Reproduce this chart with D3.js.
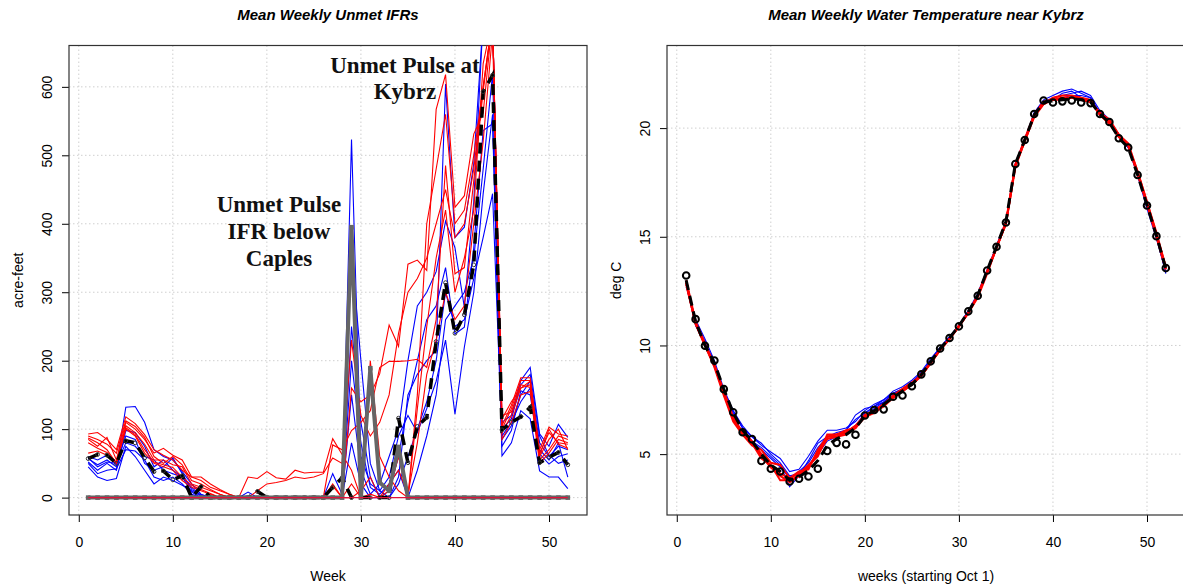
<!DOCTYPE html>
<html>
<head>
<meta charset="utf-8">
<script src="https://cdn.jsdelivr.net/npm/d3@7"></script>
<style>
  body { margin: 0; background: #fff; }
  svg { display: block; font-family: "Liberation Sans", Arial, sans-serif; }
</style>
</head>
<body>
<svg width="1183" height="588"></svg>
<script>
// ---- data ----
const weeks = [1,2,3,4,5,6,7,8,9,10,11,12,13,14,15,16,17,18,19,20,21,22,23,24,25,26,
               27,28,29,30,31,32,33,34,35,36,37,38,39,40,41,42,43,44,45,46,47,48,49,50,51,52];
const xTicks = [0, 10, 20, 30, 40, 50];
const ifrTicks = [0, 100, 200, 300, 400, 500, 600];
const tempTicks = [5, 10, 15, 20];

// left panel: unmet IFRs (acre-feet)
const ifrBlue = [
  [57,48,55,45,132,133,110,70,60,55,38,20,5,0, 0,0,0,0,0,0,0,0,0,0,0,0, 0,0,523,60,20,10,0,30,150,180,200,215,604,380,395,488,700,700,110,120,171,190,93,75,107,88],
  [52,40,50,40,98,95,75,45,55,40,30,15,3,0, 0,0,0,8,0,0,0,0,0,0,0,0, 35,5,360,200,50,10,30,90,120,95,130,170,230,122,220,300,444,560,61,80,127,115,39,30,30,13],
  [45,30,25,28,75,60,40,20,30,25,18,10,2,0, 0,0,0,0,0,0,0,0,0,0,0,0, 0,0,250,110,30,0,10,60,140,200,260,280,336,239,249,365,536,546,75,98,156,150,64,49,60,64],
  [60,55,62,48,80,75,60,55,40,35,30,8,0,0, 0,0,0,0,0,0,0,0,0,0,0,0, 0,0,150,40,5,20,60,100,200,280,300,330,404,365,278,433,700,700,90,110,140,160,70,55,80,30],
  [58,45,52,50,90,85,50,40,45,58,35,12,4,0, 0,0,0,0,0,0,0,0,0,0,0,0, 0,0,80,20,0,0,0,20,60,100,140,200,300,250,260,320,380,444,85,105,150,170,80,60,75,70],
  [50,35,40,42,70,68,55,30,25,30,20,5,0,0, 0,0,0,0,0,0,0,0,0,0,0,0, 0,0,200,80,15,5,20,40,0,40,90,150,260,280,300,350,480,620,100,115,165,180,90,62,50,55]
];
const ifrRed = [
  [93,95,85,70,118,108,92,70,62,55,40,30,30,20, 12,5,0,0,0,0,0,0,0,0,0,0, 20,0,160,140,150,181,252,221,341,347,332,567,618,424,441,531,562,700,100,130,171,171,70,103,93,90],
  [85,75,88,55,110,100,85,65,72,62,55,30,25,15, 10,5,0,0,0,0,0,0,0,0,0,0, 77,70,98,110,127,190,199,199,200,202,190,260,485,327,336,463,594,700,120,125,165,161,64,95,80,78],
  [87,80,70,50,105,95,78,55,55,48,45,20,15,10, 5,0,0,30,28,38,29,27,40,36,37,37, 86,63,40,0,200,60,30,10,0,130,250,350,420,300,350,420,634,700,115,140,160,170,60,85,100,70],
  [65,68,62,50,100,90,65,50,45,40,25,15,10,5, 0,0,0,0,10,20,22,25,30,28,30,35, 58,50,230,120,90,110,150,240,300,320,350,400,450,380,400,480,600,700,105,135,175,175,62,100,78,72],
  [90,85,78,65,112,104,88,60,50,60,48,25,20,12, 5,0,0,0,0,0,0,0,0,0,0,0, 17,0,0,10,30,0,10,60,0,150,400,480,560,400,420,500,600,700,95,120,160,165,55,70,90,85],
  [80,72,66,52,102,92,70,52,48,44,30,18,12,6, 0,0,0,0,0,0,0,0,0,0,0,0, 0,0,20,0,5,0,20,40,5,80,180,230,300,260,280,400,520,680,85,110,150,155,50,65,85,80],
  [0,0,0,0,0,0,0,0,0,0,0,0,0,0, 0,0,0,0,0,0,0,0,0,0,0,0, 0,0,0,0,0,0,0,0,0,0,0,0,0,0,0,0,0,0,0,0,0,0,0,0,0,0]
];
const kybrzMean = [57,63,62,50,83,80,58,38,39,26,32,0,16,0, 0,0,0,0,9,0,0,0,0,0,0,0,
                   15,29,0,0,0,0,0,116,51,104,117,228,314,240,267,340,593,617,99,110,118,132,51,59,66,48];
const caplesPulse = [0,0,0,0,0,0,0,0,0,0,0,0,0,0, 0,0,0,0,0,0,0,0,0,0,0,0,
                     0,0,395,0,189,22,10,74,0,0,0,0,0,0,0,0,0,0,0,0,0,0,0,0,0,0];

// right panel: water temperature (deg C)
const tempObs = [13.22,11.21,9.99,9.31,7.99,6.93,6.01,5.69,4.69,4.33,4.20,3.74,3.87,3.97,4.33,5.15,5.52,5.45,5.89,6.78,
                 7.03,7.06,7.64,7.70,8.12,8.67,9.27,9.86,10.34,10.88,11.57,12.29,13.45,14.54,15.66,18.35,19.45,20.65,21.27,21.18,
                 21.23,21.27,21.18,21.15,20.65,20.28,19.53,19.11,17.84,16.44,15.03,13.56];
const tempMean = [13.0,11.1,10.0,9.2,8.0,6.9,6.1,5.6,5.0,4.5,4.2,3.8,3.95,4.25,4.7,5.4,5.7,5.9,6.2,6.75,
                  7.0,7.3,7.6,7.9,8.2,8.65,9.25,9.85,10.35,10.9,11.55,12.3,13.45,14.55,15.7,18.35,19.45,20.6,21.2,21.25,
                  21.3,21.35,21.3,21.2,20.65,20.25,19.55,19.1,17.85,16.45,15.05,13.55];
const tempBlue = [
  [12.9,11.0,10.2,9.1,7.9,7.0,6.3,5.8,5.4,5.1,4.8,4.2,4.3,4.9,5.6,6.1,6.1,6.2,6.5,7.0,7.3,7.5,7.8,8.0,8.3,8.7,9.3,9.9,10.4,10.95,11.6,12.3,13.4,14.5,15.6,18.3,19.5,20.7,21.3,21.5,21.7,21.8,21.6,21.4,20.7,20.3,19.6,19.1,17.9,16.4,15.0,13.3],
  [12.8,10.9,10.1,9.0,7.8,6.8,5.9,5.6,5.3,4.9,4.5,3.5,4.0,4.7,5.5,5.8,6.0,6.1,6.8,7.1,7.2,7.4,7.7,8.0,8.3,8.7,9.3,9.9,10.4,10.9,11.6,12.3,13.4,14.6,15.7,18.4,19.5,20.6,21.2,21.4,21.5,21.6,21.7,21.5,20.8,20.4,19.7,19.2,17.9,16.5,15.1,13.4],
  [12.7,11.2,10.3,9.3,8.0,7.0,6.2,5.6,5.2,4.8,4.4,3.9,4.2,4.6,5.3,5.8,5.9,6.1,6.6,6.9,7.2,7.5,7.9,8.1,8.4,8.8,9.4,9.9,10.4,10.9,11.6,12.4,13.5,14.6,15.7,18.3,19.4,20.6,21.1,21.3,21.6,21.7,21.4,21.3,20.7,20.3,19.6,19.2,17.9,16.4,15.0,13.5],
  [13.0,11.1,10.1,9.2,7.9,6.9,6.2,5.8,5.5,5.0,4.6,4.0,4.1,4.5,5.0,5.6,5.8,6.0,6.3,6.9,7.1,7.4,7.8,8.0,8.3,8.7,9.3,9.8,10.3,10.9,11.5,12.3,13.4,14.5,15.6,18.3,19.4,20.7,21.2,21.3,21.4,21.5,21.5,21.4,20.6,20.3,19.6,19.1,17.8,16.3,14.9,13.4]
];
const tempRed = [
  [12.9,11.0,10.0,9.1,7.8,6.6,5.9,5.5,4.9,4.4,4.0,3.7,4.0,4.4,5.0,5.7,5.8,5.9,6.2,6.7,6.9,7.2,7.6,7.9,8.2,8.6,9.2,9.8,10.3,10.9,11.5,12.3,13.4,14.5,15.6,18.3,19.4,20.6,21.2,21.3,21.4,21.4,21.3,21.2,20.7,20.3,19.7,19.3,18.0,16.6,15.2,13.6],
  [12.8,11.0,10.0,9.0,7.7,6.5,5.9,5.4,5.2,4.6,4.5,3.9,4.1,4.5,4.9,5.9,5.9,6.0,6.3,6.7,7.0,7.3,7.6,7.9,8.2,8.7,9.2,9.8,10.3,10.9,11.5,12.2,13.3,14.5,15.6,18.2,19.4,20.5,21.1,21.4,21.5,21.5,21.4,21.3,20.6,20.2,19.6,19.2,17.9,16.5,15.0,13.5],
  [13.0,11.1,10.1,9.1,7.9,6.7,6.0,5.6,5.0,4.4,4.1,3.9,4.2,4.3,5.2,5.8,5.9,6.1,6.2,6.8,7.0,7.3,7.7,8.0,8.3,8.6,9.2,9.8,10.3,10.85,11.5,12.3,13.4,14.5,15.7,18.3,19.5,20.6,21.2,21.3,21.3,21.4,21.4,21.2,20.7,20.4,19.7,19.2,18.0,16.6,15.1,13.6],
  [12.9,11.0,10.0,9.1,7.8,6.6,6.0,5.5,4.8,4.5,3.8,3.8,4.0,4.4,5.1,5.8,5.8,6.0,6.3,6.8,7.0,7.2,7.6,7.9,8.2,8.6,9.2,9.8,10.3,10.9,11.5,12.3,13.4,14.5,15.6,18.3,19.4,20.6,21.1,21.3,21.4,21.4,21.3,21.2,20.6,20.3,19.6,19.2,17.9,16.5,15.1,13.5]
];

// ---- layout ----
const svg = d3.select('svg');
const plotTop = 45.5, plotBottom = 515;

function makePanel(id, left, right, yDomain, yTickVals, title, xLabel, yLabel) {
    const x = d3.scaleLinear().domain([-1.04, 54.04]).range([left, right]);
    const y = d3.scaleLinear().domain(yDomain).range([plotBottom, plotTop]);

    svg.append('clipPath').attr('id', 'clip-' + id)
        .append('rect')
        .attr('x', left).attr('y', plotTop)
        .attr('width', right - left).attr('height', plotBottom - plotTop);

    // grid
    const grid = svg.append('g').attr('stroke', '#cfcfcf').attr('stroke-dasharray', '1.5,2.5');
    grid.selectAll('.gx').data(xTicks).join('line')
        .attr('x1', d => x(d)).attr('x2', d => x(d))
        .attr('y1', plotTop).attr('y2', plotBottom);
    grid.selectAll('.gy').data(yTickVals).join('line')
        .attr('x1', left).attr('x2', right)
        .attr('y1', d => y(d)).attr('y2', d => y(d));

    // axes
    const ax = svg.append('g')
        .attr('transform', `translate(0,${plotBottom})`)
        .call(d3.axisBottom(x).tickValues(xTicks).tickSize(7).tickPadding(15));
    ax.select('.domain').remove();
    ax.selectAll('text').attr('font-size', '14px').attr('font-family', '"Liberation Sans", Arial, sans-serif').attr('fill', '#000');
    ax.selectAll('line').attr('stroke', '#000');

    const ay = svg.append('g')
        .attr('transform', `translate(${left},0)`)
        .call(d3.axisLeft(y).tickValues(yTickVals).tickSize(7));
    ay.select('.domain').remove();
    ay.selectAll('line').attr('stroke', '#000');
    ay.selectAll('text')
        .attr('font-size', '14px').attr('font-family', '"Liberation Sans", Arial, sans-serif').attr('fill', '#000')
        .attr('x', null).attr('dy', null)
        .attr('text-anchor', 'middle')
        .attr('transform', 'translate(-17,0) rotate(-90)');

    // box
    svg.append('rect')
        .attr('x', left).attr('y', plotTop)
        .attr('width', right - left).attr('height', plotBottom - plotTop)
        .attr('fill', 'none').attr('stroke', '#333').attr('stroke-width', 1.2);

    // titles
    svg.append('text')
        .attr('x', (left + right) / 2).attr('y', 20)
        .attr('text-anchor', 'middle')
        .attr('font-size', '15px').attr('font-weight', 'bold').attr('font-style', 'italic')
        .text(title);
    svg.append('text')
        .attr('x', (left + right) / 2).attr('y', 581)
        .attr('text-anchor', 'middle').attr('font-size', '14px')
        .text(xLabel);
    svg.append('text')
        .attr('transform', `translate(${left - 46},${(plotTop + plotBottom) / 2}) rotate(-90)`)
        .attr('text-anchor', 'middle').attr('font-size', '14px')
        .text(yLabel);

    const g = svg.append('g').attr('clip-path', `url(#clip-${id})`);
    const line = d3.line().x((d, i) => x(weeks[i])).y(d => y(d));
    return { g, x, y, line };
}

// ---- left panel ----
const L = makePanel('ifr', 69, 587, [-25.4, 660.4], ifrTicks,
    'Mean Weekly Unmet IFRs', 'Week', 'acre-feet');

L.g.selectAll('.blue').data(ifrBlue).join('path')
    .attr('d', L.line).attr('fill', 'none').attr('stroke', '#0000ff').attr('stroke-width', 1.1);
L.g.selectAll('.red').data(ifrRed.slice(0, 6)).join('path')
    .attr('d', L.line).attr('fill', 'none').attr('stroke', '#ff0000').attr('stroke-width', 1.1);

L.g.append('path').datum(kybrzMean)
    .attr('d', L.line).attr('fill', 'none').attr('stroke', '#000')
    .attr('stroke-width', 3.5).attr('stroke-dasharray', '11,7');
L.g.selectAll('.kc').data(kybrzMean).join('circle')
    .attr('cx', (d, i) => L.x(weeks[i])).attr('cy', d => L.y(d))
    .attr('r', 1.9).attr('fill', 'none').attr('stroke', '#333').attr('stroke-width', 1);

L.g.append('path').datum(caplesPulse)
    .attr('d', L.line).attr('fill', 'none').attr('stroke', '#666')
    .attr('stroke-width', 4).attr('stroke-linejoin', 'round');
L.g.selectAll('.cs').data(caplesPulse).join('rect')
    .attr('x', (d, i) => L.x(weeks[i]) - 2.3).attr('y', d => L.y(d) - 2.3)
    .attr('width', 4.6).attr('height', 4.6).attr('fill', '#666');

L.g.append('path').datum(ifrRed[6])
    .attr('d', L.line).attr('fill', 'none').attr('stroke', '#e0103a').attr('stroke-width', 1.4);

const serif = '"Liberation Serif", "DejaVu Serif", serif';
[['Unmet Pulse', 212], ['IFR below', 239], ['Caples', 266]].forEach(([t, yy]) => {
    svg.append('text').attr('x', 279).attr('y', yy).attr('text-anchor', 'middle')
        .attr('font-family', serif).attr('font-weight', 'bold').attr('font-size', '23px')
        .attr('fill', '#111').text(t);
});
[['Unmet Pulse at', 73], ['Kybrz', 99]].forEach(([t, yy]) => {
    svg.append('text').attr('x', 405).attr('y', yy).attr('text-anchor', 'middle')
        .attr('font-family', serif).attr('font-weight', 'bold').attr('font-size', '23px')
        .attr('fill', '#111').text(t);
});

// ---- right panel ----
const R = makePanel('temp', 667, 1185, [2.2, 23.8], tempTicks,
    'Mean Weekly Water Temperature near Kybrz', 'weeks (starting Oct 1)', 'deg C');

R.g.selectAll('.blue').data(tempBlue).join('path')
    .attr('d', R.line).attr('fill', 'none').attr('stroke', '#0000ff').attr('stroke-width', 1.1);
R.g.selectAll('.red').data(tempRed).join('path')
    .attr('d', R.line).attr('fill', 'none').attr('stroke', '#ff0000').attr('stroke-width', 2);
R.g.append('path').datum(tempMean)
    .attr('d', R.line).attr('fill', 'none').attr('stroke', '#000')
    .attr('stroke-width', 3).attr('stroke-dasharray', '10,6');
R.g.selectAll('.tc').data(tempObs).join('circle')
    .attr('cx', (d, i) => R.x(weeks[i])).attr('cy', d => R.y(d))
    .attr('r', 3.3).attr('fill', 'none').attr('stroke', '#000').attr('stroke-width', 2);
</script>
</body>
</html>
